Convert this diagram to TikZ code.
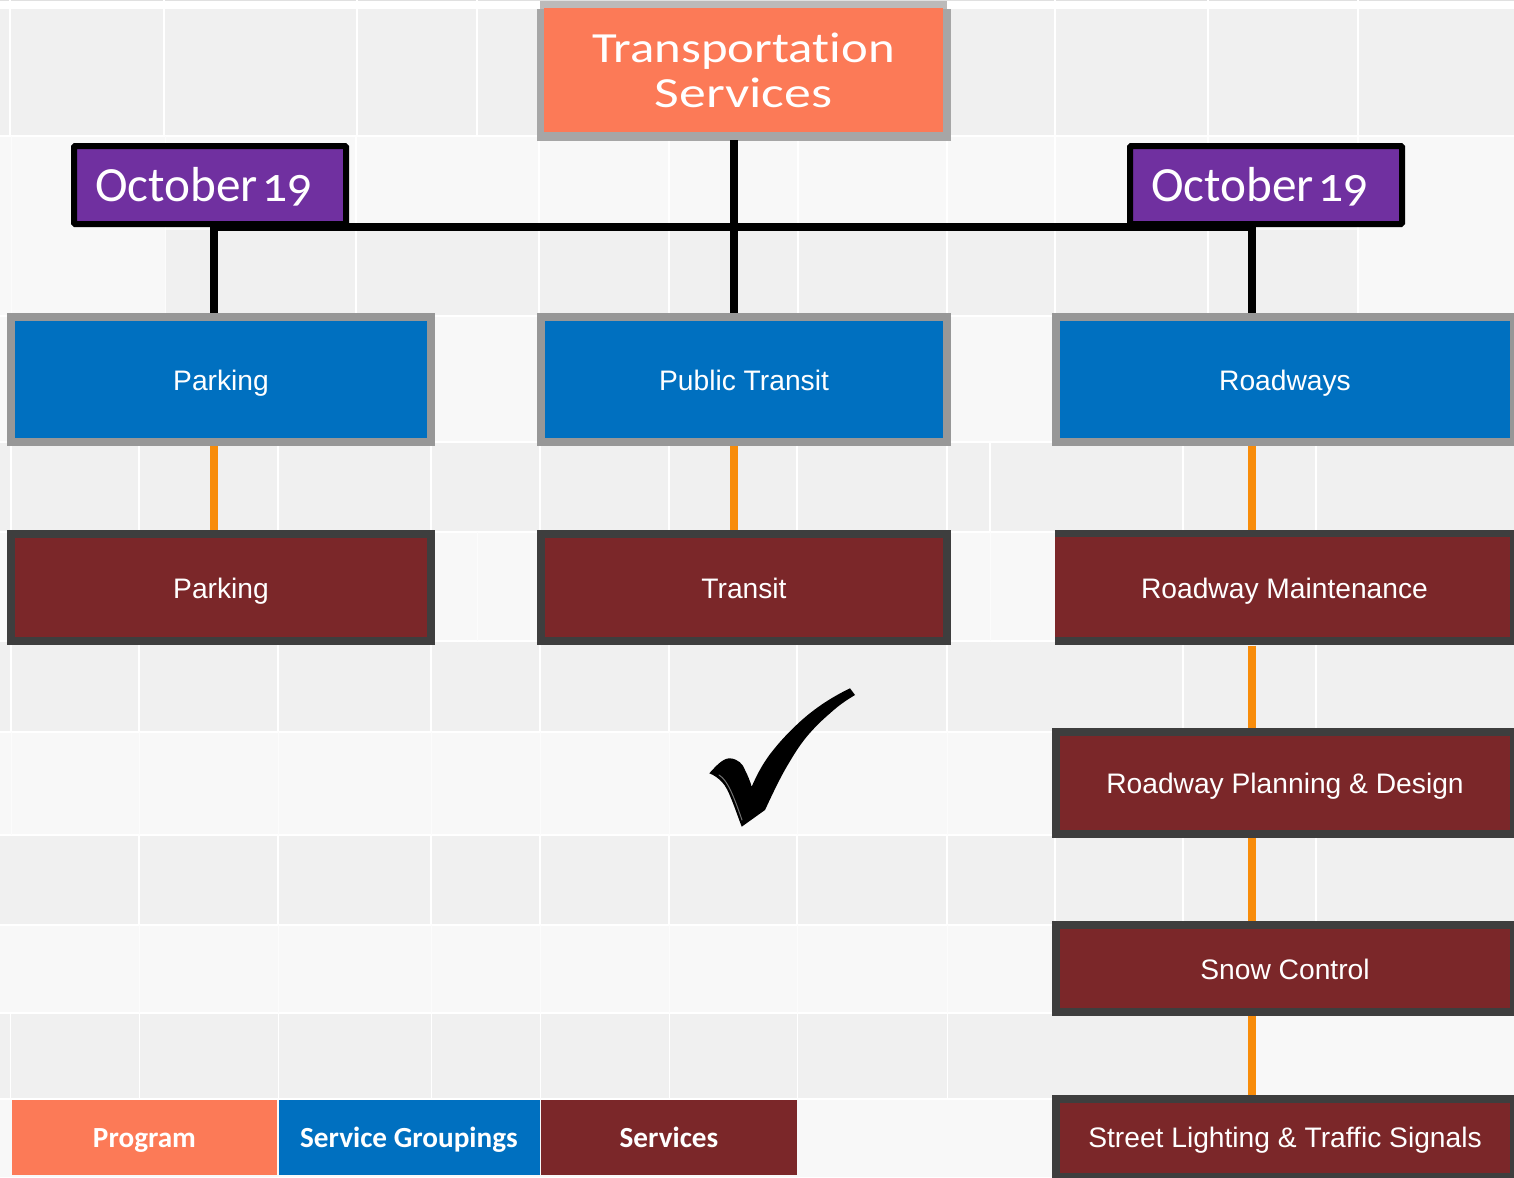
\documentclass[tikz,border=0pt]{standalone}
\usepackage{fontspec}
\setmainfont{Liberation Sans}
\newfontfamily\datefont[Numbers=OldStyle]{Carlito}
\newfontfamily\titlefont[FakeStretch=1.18,Ligatures=NoCommon]{Carlito}
\newfontfamily\titlefontwide[FakeStretch=1.25,Ligatures=NoCommon]{Carlito}
\newfontfamily\legendfont{Carlito}
\definecolor{cellA}{HTML}{F0F0F0}
\definecolor{cellB}{HTML}{F8F8F8}
\definecolor{progfill}{HTML}{FC7A57}
\definecolor{progedge}{HTML}{A6A6A6}
\definecolor{progtop}{HTML}{BCBAB9}
\definecolor{groupfill}{HTML}{0070C0}
\definecolor{groupedge}{HTML}{979797}
\definecolor{servfill}{HTML}{7B2729}
\definecolor{servedge}{HTML}{3E3E3E}
\definecolor{datefill}{HTML}{7030A0}
\definecolor{orangeline}{HTML}{F88C0A}
\tikzset{
  x=0.5pt,y=-0.5pt,
  box/.style={rectangle,inner sep=0pt,text=white,font=\fontsize{14.1}{17}\selectfont,line width=4pt,align=center,
     text height=11pt,text depth=0pt},
  leftcol/.style={minimum width=210pt},
  midcol/.style={minimum width=203pt},
  rightcol/.style={minimum width=229pt},
  groupbox/.style={box,fill=groupfill,draw=groupedge,minimum height=62.5pt},
  servbox/.style={box,fill=servfill,draw=servedge},
  servlabel/.style={box,outer sep=4pt},
  progbox/.style={rectangle,inner sep=0pt,text=white,align=center,fill=progfill,outer sep=4pt,minimum width=199.5pt,minimum height=62pt,
     font=\titlefont\fontsize{21.5}{22.5}\selectfont},
  datebox/.style={rectangle,fill=datefill,draw=black,line width=3pt,rounded corners=0.6pt,text=white,
     minimum height=39pt,inner ysep=0pt,inner xsep=10.5pt,text width=115pt,align=left,
     text height=16pt,text depth=0pt,
     font=\datefont\fontsize{24.6}{28}\selectfont},
  legendbox/.style={rectangle,text=white,inner sep=0pt,minimum height=37.5pt,text height=10pt,text depth=0pt,
     font=\legendfont\bfseries\fontsize{14.6}{16}\selectfont},
  mainline/.style={draw=black,line width=4pt},
  subline/.style={draw=orangeline,line width=4pt},
  gridline/.style={draw=white,line width=1pt},
  faintline/.style={draw=white!60!cellB,line width=0.5pt},
}
\begin{document}
\begin{tikzpicture}
\useasboundingbox (0,0) rectangle (1514,1177);
% page and table cells
\fill[white] (0,0) rectangle (1514,1177);
\fill[black!12] (0,0) rectangle (1514,1.5);
\fill[cellA] (0,9) rectangle (1514,135);
\fill[cellB] (0,137) rectangle (1514,315);
\fill[cellA] (165,230) rectangle (1358,315);
\fill[cellB] (0,317) rectangle (1514,441);
\fill[cellA] (0,443) rectangle (1514,531);
\fill[cellB] (0,533) rectangle (1514,640);
\fill[cellA] (0,642) rectangle (1514,731);
\fill[cellB] (0,733) rectangle (1514,834);
\fill[cellA] (0,836) rectangle (1514,924);
\fill[cellB] (0,926) rectangle (1514,1012);
\fill[cellA] (0,1014) rectangle (1514,1098);
\fill[cellB] (1256,1016) rectangle (1514,1098);
\fill[cellB] (0,1100) rectangle (1514,1177);
\foreach \x in {10,164,357,477,1055,1208,1358} \draw[gridline] (\x,0) -- (\x,136);
\foreach \x in {11,165} \draw[faintline] (\x,136) -- (\x,316);
\foreach \x in {356,539,669,798,947,1055,1208,1358} \draw[gridline] (\x,136) -- (\x,316);
\foreach \x in {11,139,278,431,540,669,797,947,990,1183,1316} \draw[gridline] (\x,442) -- (\x,532);
\foreach \x in {477,540,669,797,947,990} \draw[faintline] (\x,532) -- (\x,641);
\foreach \x in {11,139,278,431,540,669,797,947,1183,1316} \draw[gridline] (\x,641) -- (\x,732);
\foreach \x in {11,139,278,431,540,669,797,947} \draw[faintline] (\x,732) -- (\x,835);
\foreach \x in {139,278,431,540,669,797,947,1055,1183,1316} \draw[gridline] (\x,835) -- (\x,925);
\foreach \x in {139,278,431,540,669,797,947} \draw[faintline] (\x,925) -- (\x,1013);
\foreach \x in {10,139,278,431,540,669,797,947} \draw[gridline,line width=0.5pt] (\x,1013) -- (\x,1099);
% junctions of the connectors
\coordinate (j1) at (209.5,227);
\coordinate (j1x) at (213.5,227);
\coordinate (j2) at (733.5,227);
\coordinate (j3) at (1256,227);
\coordinate (j3x) at (1252,227);
% title
\fill[progedge] (537,9) rectangle (951,141);
\fill[progtop] (540,1) rectangle (947,9);
\node[progbox] (title) at (743.5,70) {Transportation\\{\titlefontwide Services}};
% service groupings
\node[groupbox,leftcol] (gpark) at (221,379.5) {Parking};
\node[groupbox,midcol] (gtransit) at (744,379.5) {Public Transit};
\node[groupbox,rightcol] (groad) at (1285,379.5) {Roadways};
% services
\node[servbox,leftcol,minimum height=53.5pt] (spark) at (221,587.5) {Parking};
\node[servbox,midcol,minimum height=53.5pt] (stransit) at (744,587.5) {Transit};
\fill[servedge] (1055,530) rectangle (1518,645);
\fill[servfill] (1055,537) rectangle (1510,637);
\node[servlabel,minimum width=229pt,minimum height=50pt] (smaint) at (1284.5,587.5) {Roadway Maintenance};
\node[servbox,rightcol,minimum height=51pt,text height=10pt] (splan) at (1285,783) {Roadway Planning \& Design};
\node[servbox,rightcol,minimum height=43.5pt] (ssnow) at (1285,968.5) {Snow Control};
\node[servbox,rightcol,minimum height=38.75pt,text height=10pt] (sstreet) at (1285,1137.75) {Street Lighting \& Traffic Signals};
% connectors
\draw[mainline] (j1) -- (j3);
\draw[mainline] (title.south -| j2) -- (gtransit.north -| j2);
\draw[mainline] (j1x) -- (gpark.north -| j1x);
\draw[mainline] (j3x) -- (groad.north -| j3x);
\draw[subline] (gpark.south -| j1x) -- (spark.north -| j1x);
\draw[subline] (gtransit.south -| j2) -- (stransit.north -| j2);
\draw[subline] (groad.south -| j3x) -- (smaint.north -| j3x);
\draw[subline] (smaint.south -| j3x) -- (splan.north -| j3x);
\draw[subline] (splan.south -| j3x) -- (ssnow.north -| j3x);
\draw[subline] (ssnow.south -| j3x) -- (sstreet.north -| j3x);
% date tags
\node[datebox] (date1) at (210,185) {\mbox{October\hspace{2.5pt}19}};
\node[datebox] (date2) at (1266,185) {\mbox{October\hspace{2.5pt}19}};
% legend
\node[legendbox,fill=progfill,minimum width=132.5pt] (lprog) at (144.5,1137.5) {Program};
\node[legendbox,fill=groupfill,minimum width=130.5pt] (lgroup) at (409,1137.5) {Service Groupings};
\node[legendbox,fill=servfill,minimum width=128pt] (lserv) at (669,1137.5) {Services};
% check mark
\fill[black] (709.3,773.3) .. controls (716,766) and (723,758) .. (730,758.3)
  .. controls (738,759) and (743,764) .. (745,770)
  .. controls (748,776) and (750,781) .. (751.7,786.7)
  .. controls (758,772) and (765,760) .. (773.3,750)
  .. controls (782,739) and (791,730) .. (800,721.7)
  .. controls (815,708) and (832,697) .. (850,688.3)
  -- (855,695)
  .. controls (845,701) and (838,706) .. (830,713.3)
  .. controls (821,721) and (814,728) .. (806.7,736.7)
  .. controls (799,746) and (793,756) .. (786.7,766.7)
  .. controls (779,780) and (772,795) .. (765,810)
  -- (741.7,826.7)
  .. controls (738,817) and (735,808) .. (731.7,800)
  .. controls (729,793) and (726,786) .. (721.7,781.7)
  .. controls (718,778) and (714,775) .. (709.3,773.3) -- cycle;
\draw[black!55,line width=0.5pt,line cap=round] (719,775) .. controls (728,780) and (735,800) .. (742,820);
\end{tikzpicture}
\end{document}
